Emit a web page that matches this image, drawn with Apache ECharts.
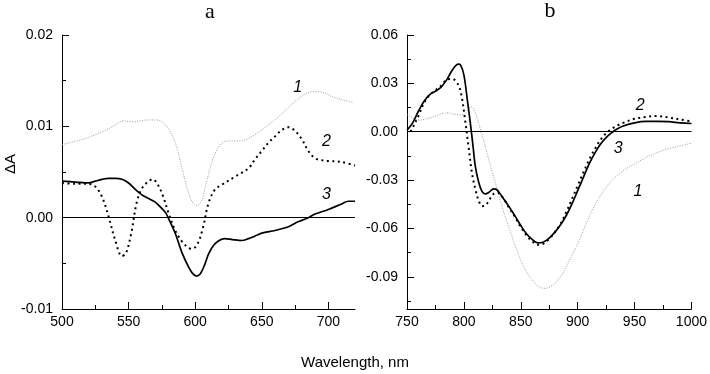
<!DOCTYPE html>
<html>
<head>
<meta charset="utf-8">
<script src="https://cdn.jsdelivr.net/npm/echarts@6/dist/echarts.min.js"></script>
<style>html,body{margin:0;padding:0;background:#fff}#c{width:710px;height:374px}</style>
</head>
<body>
<div id="c"></div>
<script>
// ---------- Panel a data ----------
var aX1 = [500,516,528.6,538.6,546,553.8,563.7,571,576,581,586,591,596,601,605,609,614,619,624,634,639,649,659,669,679,689,696,704,711,719];
var aY1 = [0.0080,0.0086,0.0093,0.0100,0.0106,0.0105,0.0107,0.0107,0.0104,0.0095,0.0078,0.0049,0.0023,0.0013,0.0019,0.0042,0.0067,0.0080,0.0084,0.0084,0.0086,0.0095,0.0106,0.0119,0.0132,0.0138,0.0137,0.0132,0.0129,0.0126];

var aX2 = [500,510,520,525,530,535,540,545,548,552,556,560,565,568,572,576,580,585,590,595,598,602,606,610,615,620,630,640,645,650,655,660,665,670,675,680,685,690,695,700,710,720];
var aY2 = [0.0038,0.0037,0.0037,0.0034,0.0023,0.0001,-0.0025,-0.0042,-0.0039,-0.0017,0.0016,0.0032,0.0040,0.0042,0.0036,0.0023,0.0005,-0.0014,-0.0026,-0.0033,-0.0034,-0.0028,-0.0010,0.0016,0.0031,0.0036,0.0045,0.0054,0.0064,0.0073,0.0082,0.0089,0.0096,0.0099,0.0095,0.0086,0.0073,0.0065,0.0063,0.0062,0.0061,0.0057];

var aX3 = [500,510,520,525,530,535,540,545,550,555,560,565,570,575,578,580,585,590,595,598,601,604,607,610,614,618,622,628,635,640,645,650,660,670,675,680,685,690,700,710,715,720];
var aY3 = [0.0040,0.0039,0.0038,0.0040,0.0042,0.0043,0.0043,0.0042,0.0038,0.0031,0.0025,0.0021,0.0017,0.0010,0.0005,-0.0001,-0.0017,-0.0038,-0.0054,-0.0061,-0.0064,-0.0061,-0.0052,-0.0040,-0.0030,-0.0025,-0.0023,-0.0024,-0.0025,-0.0023,-0.0020,-0.0017,-0.0014,-0.0010,-0.0006,-0.0003,0.0000,0.0004,0.0009,0.0015,0.0018,0.0018];

// ---------- Panel b data ----------
var bX1 = [750,755,760,765,770,775,780,785,790,795,800,803,806,809,812,815,818,821,825,830,835,840,845,850,855,860,865,870,875,880,885,890,895,900,905,910,915,920,925,930,940,950,960,970,980,990,1000];
var bY1 = [0.0107,0.0086,0.0072,0.0076,0.0086,0.0097,0.0111,0.0117,0.0111,0.0105,0.0107,0.0127,0.0154,0.0138,0.0076,0.0004,-0.0068,-0.0150,-0.0253,-0.0376,-0.0499,-0.0602,-0.0705,-0.0797,-0.0869,-0.0921,-0.0955,-0.0972,-0.0966,-0.0941,-0.0900,-0.0838,-0.0766,-0.0695,-0.0612,-0.0530,-0.0458,-0.0397,-0.0345,-0.0304,-0.0242,-0.0201,-0.0160,-0.0129,-0.0105,-0.0088,-0.0072];

var bX2 = [753,755,760,765,770,775,780,785,790,795,798,801,804,807,810,813,816,819,822,826,830,835,840,845,850,855,860,865,870,875,880,885,890,895,900,905,910,915,920,925,930,935,940,950,960,970,980,990,1000];
var bY2 = [0.0000,0.0025,0.0097,0.0179,0.0230,0.0257,0.0286,0.0323,0.0327,0.0292,0.0220,0.0076,-0.0088,-0.0253,-0.0355,-0.0427,-0.0462,-0.0458,-0.0427,-0.0386,-0.0380,-0.0417,-0.0475,-0.0530,-0.0592,-0.0643,-0.0680,-0.0701,-0.0695,-0.0664,-0.0623,-0.0571,-0.0499,-0.0417,-0.0335,-0.0253,-0.0175,-0.0109,-0.0051,-0.0010,0.0018,0.0039,0.0055,0.0080,0.0092,0.0097,0.0088,0.0076,0.0064];

var bX3 = [750,755,760,765,770,775,780,785,790,795,797,800,803,806,808,810,813,816,819,822,826,829,833,840,845,850,855,860,865,870,875,880,885,890,895,900,905,910,915,920,925,930,935,940,950,960,970,980,990,1000];
var bY3 = [0.0010,0.0055,0.0127,0.0189,0.0230,0.0251,0.0277,0.0323,0.0384,0.0419,0.0415,0.0353,0.0199,0.0035,-0.0088,-0.0212,-0.0314,-0.0372,-0.0386,-0.0376,-0.0355,-0.0360,-0.0397,-0.0468,-0.0524,-0.0582,-0.0633,-0.0668,-0.0690,-0.0684,-0.0660,-0.0623,-0.0577,-0.0520,-0.0448,-0.0366,-0.0284,-0.0201,-0.0134,-0.0078,-0.0037,-0.0006,0.0018,0.0035,0.0055,0.0064,0.0064,0.0062,0.0055,0.0051];

// ---------- Ticks ----------
var aXMajor = [500,550,600,650,700];
var aXMinor = [525,575,625,675];
var aYMajor = [-0.01,0.00,0.01,0.02];
var aYMinor = [-0.005,0.005,0.015];
var bXMajor = [750,800,850,900,950,1000];
var bXMinor = [775,825,875,925,975];
var bYMajor = [-0.09,-0.06,-0.03,0.00,0.03,0.06];
var bYMinor = [-0.105,-0.075,-0.045,-0.015,0.015,0.045];

// ---------- Curve labels (data coordinates) ----------
var aLabels = [{t:'1', x:677, y:0.0143},{t:'2', x:698.5, y:0.0083},{t:'3', x:698.5, y:0.0025}];
var bLabels = [{t:'2', x:955, y:0.0162},{t:'3', x:935.6, y:-0.0103},{t:'1', x:953, y:-0.0374}];

function zip(xs, ys){ return xs.map(function(x,i){ return [x, ys[i]]; }); }

var FONT = 'Liberation Sans, Arial, sans-serif';
var axisLineStyle = {color:'#000', width:1};

function mainX(grid, min, max, ticks){
  return {type:'value', gridIndex:grid, min:min, max:max, position:'bottom',
    axisLine:{show:true, onZero:false, lineStyle:axisLineStyle},
    axisTick:{show:true, inside:true, length:7, customValues:ticks, lineStyle:axisLineStyle},
    axisLabel:{show:true, customValues:ticks, color:'#000', fontSize:14, fontFamily:FONT, margin:6,
      formatter:function(v){ return String(v); }},
    splitLine:{show:false}};
}
function minorX(grid, min, max, ticks){
  return {type:'value', gridIndex:grid, min:min, max:max, position:'bottom',
    axisLine:{show:false, onZero:false},
    axisTick:{show:true, inside:true, length:4, customValues:ticks, lineStyle:axisLineStyle},
    axisLabel:{show:false}, splitLine:{show:false}};
}
function mainY(grid, min, max, ticks){
  return {type:'value', gridIndex:grid, min:min, max:max, position:'left',
    axisLine:{show:true, onZero:false, lineStyle:axisLineStyle},
    axisTick:{show:true, inside:true, length:7, customValues:ticks, lineStyle:axisLineStyle},
    axisLabel:{show:true, customValues:ticks, color:'#000', fontSize:14, fontFamily:FONT, margin:9,
      formatter:function(v){ return v.toFixed(2); }},
    splitLine:{show:false}};
}
function minorY(grid, min, max, ticks){
  return {type:'value', gridIndex:grid, min:min, max:max, position:'left',
    axisLine:{show:false, onZero:false},
    axisTick:{show:true, inside:true, length:4, customValues:ticks, lineStyle:axisLineStyle},
    axisLabel:{show:false}, splitLine:{show:false}};
}

function labelPoints(list){
  return {symbol:'circle', symbolSize:0, silent:true,
    label:{show:true, position:'inside', color:'#000', fontSize:16, fontStyle:'italic', fontFamily:FONT,
      formatter:function(p){ return p.name; }},
    data:list.map(function(l){ return {name:l.t, coord:[l.x, l.y]}; })};
}
var zeroLine = {silent:true, symbol:['none','none'], label:{show:false},
  lineStyle:{color:'#000', width:1, type:'solid'}, data:[{yAxis:0}]};

var s1 = {color:'#9a9a9a', width:1, type:[1,1.5]};
var s2 = {color:'#000', width:2, type:[2,3.5]};
var s3 = {color:'#000', width:1.7, type:'solid'};

function line(xi, yi, data, style, extra){
  var o = {type:'line', xAxisIndex:xi, yAxisIndex:yi, data:data, showSymbol:false, symbol:'none',
    smooth:0.35, lineStyle:style, animation:false, silent:true, z:3};
  if (extra) for (var k in extra) o[k] = extra[k];
  return o;
}

var chart = echarts.init(document.getElementById('c'), null, {renderer:'canvas'});
chart.setOption({
  animation:false,
  backgroundColor:'#fff',
  grid:[
    {left:62, right:355, top:35, bottom:65},
    {left:407, right:16, top:35, bottom:65}
  ],
  xAxis:[
    mainX(0, 500, 720, aXMajor), minorX(0, 500, 720, aXMinor),
    mainX(1, 750, 1000, bXMajor), minorX(1, 750, 1000, bXMinor)
  ],
  yAxis:[
    mainY(0, -0.01, 0.02, aYMajor), minorY(0, -0.01, 0.02, aYMinor),
    mainY(1, -0.11, 0.06, bYMajor), minorY(1, -0.11, 0.06, bYMinor)
  ],
  graphic:[
    {type:'text', style:{text:'a', font:'22px "Liberation Serif", serif', fill:'#000', x:210, y:12, align:'center', verticalAlign:'middle'}},
    {type:'text', style:{text:'b', font:'22px "Liberation Serif", serif', fill:'#000', x:550, y:11, align:'center', verticalAlign:'middle'}},
    {type:'text', x:11, y:164, rotation:Math.PI/2, style:{text:'ΔA', font:'15px "Liberation Sans", Arial, sans-serif', fill:'#000', align:'center', verticalAlign:'middle'}},
    {type:'text', style:{text:'Wavelength, nm', font:'15px "Liberation Sans", Arial, sans-serif', fill:'#000', x:355, y:363, align:'center', verticalAlign:'middle'}}
  ],
  series:[
    line(0, 0, zip(aX1, aY1), s1, {markLine:zeroLine, markPoint:labelPoints(aLabels)}),
    line(0, 0, zip(aX2, aY2), s2),
    line(0, 0, zip(aX3, aY3), s3),
    line(2, 2, zip(bX1, bY1), s1, {markLine:zeroLine, markPoint:labelPoints(bLabels)}),
    line(2, 2, zip(bX2, bY2), s2),
    line(2, 2, zip(bX3, bY3), s3)
  ]
});
</script>
</body>
</html>
